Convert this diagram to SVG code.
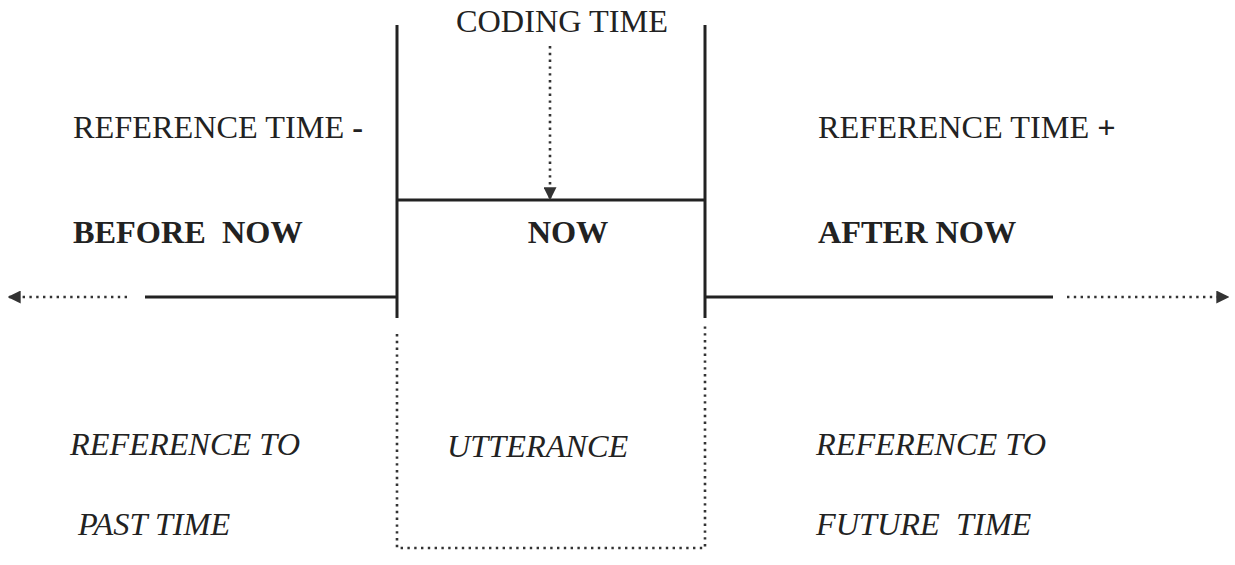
<svg xmlns="http://www.w3.org/2000/svg" width="1235" height="565" viewBox="0 0 1235 565">
<style>
text{font-family:"Liberation Serif","Times New Roman",serif;font-size:32.3px;fill:#222}
.b{font-weight:bold}
.i{font-style:italic}
.solid{stroke:#222;stroke-width:3;fill:none}
.dot{stroke:#333;stroke-width:2.6;fill:none;stroke-dasharray:2.4 4.4}
</style>
<defs>
<marker id="ah" viewBox="0 0 10 10" refX="9" refY="5" markerWidth="13" markerHeight="13" markerUnits="userSpaceOnUse" orient="auto">
<path d="M0,0 L10,5 L0,10 z" fill="#333"/>
</marker>
</defs>
<rect width="1235" height="565" fill="#fff"/>
<g id="frame">
<line class="solid" x1="397" y1="25" x2="397" y2="318"/>
<line class="solid" x1="705" y1="25" x2="705" y2="318"/>
<line class="solid" x1="397" y1="200" x2="705" y2="200"/>
</g>
<g id="utterance-box">
<path class="dot" d="M397,334 L397,548 L705,548 L705,322"/>
</g>
<g id="connectors">
<line class="dot" x1="550" y1="46" x2="550" y2="199" marker-end="url(#ah)"/>
<line class="solid" x1="145" y1="297" x2="397" y2="297"/>
<line class="dot" x1="127" y1="297" x2="9" y2="297" marker-end="url(#ah)"/>
<line class="solid" x1="705" y1="297" x2="1053" y2="297"/>
<line class="dot" x1="1067" y1="297" x2="1228" y2="297" marker-end="url(#ah)"/>
</g>
<g id="coding-time"><text x="562" y="32" text-anchor="middle">CODING TIME</text></g>
<g id="left">
<text x="73" y="138">REFERENCE TIME <tspan class="b">-</tspan></text>
<text class="b" x="73" y="243" xml:space="preserve">BEFORE  NOW</text>
<text class="i" x="70" y="455">REFERENCE TO</text>
<text class="i" x="78" y="535">PAST TIME</text>
</g>
<g id="center">
<text class="b" x="568" y="243" text-anchor="middle">NOW</text>
<text class="i" x="447" y="457">UTTERANCE</text>
</g>
<g id="right">
<text x="818" y="138">REFERENCE TIME <tspan class="b">+</tspan></text>
<text class="b" x="818" y="243">AFTER NOW</text>
<text class="i" x="816" y="455">REFERENCE TO</text>
<text class="i" x="816" y="535" xml:space="preserve">FUTURE  TIME</text>
</g>
</svg>
